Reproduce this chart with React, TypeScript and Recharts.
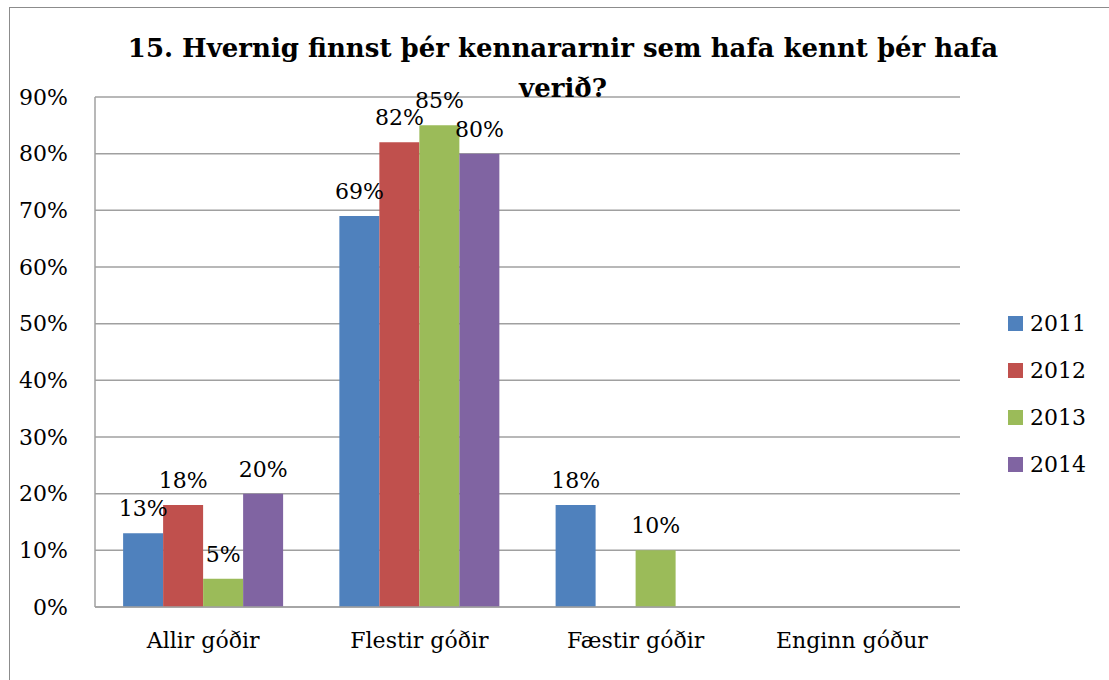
import { BarChart, Bar, XAxis, YAxis, CartesianGrid, LabelList } from "recharts";

const categories = ["Allir góðir", "Flestir góðir", "Fæstir góðir", "Enginn góður"];
const years = ["2011", "2012", "2013", "2014"];
const values2011 = [13, 69, 18, 0];
const values2012 = [18, 82, 0, 0];
const values2013 = [5, 85, 10, 0];
const values2014 = [20, 80, 0, 0];
const yTicks = [0, 10, 20, 30, 40, 50, 60, 70, 80, 90];
const colors = ["#4F81BD", "#C0504D", "#9BBB59", "#8064A2"];

const series = [values2011, values2012, values2013, values2014];
const data = categories.map((name, i) => {
  const row: Record<string, string | number> = { name };
  years.forEach((y, j) => {
    row[y] = series[j][i];
  });
  return row;
});

const FONT = "'DejaVu Serif', serif";

function LegendBox() {
  return (
    <div style={{ position: "absolute", left: 1008, top: 300, fontFamily: FONT, fontSize: 22, color: "#000" }}>
      {years.map((y, i) => (
        <div key={y} style={{ display: "flex", alignItems: "center", height: 47 }}>
          <span style={{ width: 15, height: 15, background: colors[i], display: "inline-block", marginRight: 7 }} />
          <span>{y}</span>
        </div>
      ))}
    </div>
  );
}

export default function App() {
  return (
    <div style={{ position: "absolute", left: 0, top: 0, width: 1109, height: 680, overflow: "hidden", background: "#fff" }}>
      <div style={{ position: "absolute", left: 9, top: 7, width: 1200, height: 800, border: "1.5px solid #8c8c8c" }} />
      <div style={{ position: "absolute", left: 0, top: 0 }}>
        <BarChart
          width={1109}
          height={680}
          data={data}
          margin={{ top: 97, right: 149, left: 0, bottom: 33 }}
          barCategoryGap="13%"
          barGap={0}
        >
          <CartesianGrid vertical={false} stroke="#a0a0a0" strokeWidth={1.5} />
          <XAxis
            dataKey="name"
            height={40}
            tickLine={false}
            tickSize={0}
            tickMargin={25}
            axisLine={{ stroke: "#a0a0a0", strokeWidth: 1.5 }}
            tick={{ fill: "#000", fontFamily: FONT, fontSize: 22 }}
          />
          <YAxis
            width={95}
            domain={[0, 90]}
            ticks={yTicks}
            tickFormatter={(v) => `${v}%`}
            tickLine={false}
            tickSize={0}
            tickMargin={27}
            axisLine={{ stroke: "#a0a0a0", strokeWidth: 1.5 }}
            tick={{ fill: "#000", fontFamily: FONT, fontSize: 22 }}
            interval={0}
          />
          {years.map((y, i) => (
            <Bar key={y} dataKey={y} fill={colors[i]} isAnimationActive={false}>
              <LabelList
                dataKey={y}
                position="top"
                offset={17}
                formatter={(v: number) => (v ? `${v}%` : "")}
                style={{ fill: "#000", fontFamily: FONT, fontSize: 22 }}
              />
            </Bar>
          ))}
        </BarChart>
      </div>
      <LegendBox />
      <div
        style={{
          position: "absolute",
          left: 0,
          width: 1126,
          top: 28,
          textAlign: "center",
          fontFamily: FONT,
          fontWeight: "bold",
          fontSize: 26,
          lineHeight: "40px",
          color: "#000",
        }}
      >
        15. Hvernig finnst þér kennararnir sem hafa kennt þér hafa
        <br />
        verið?
      </div>
    </div>
  );
}
